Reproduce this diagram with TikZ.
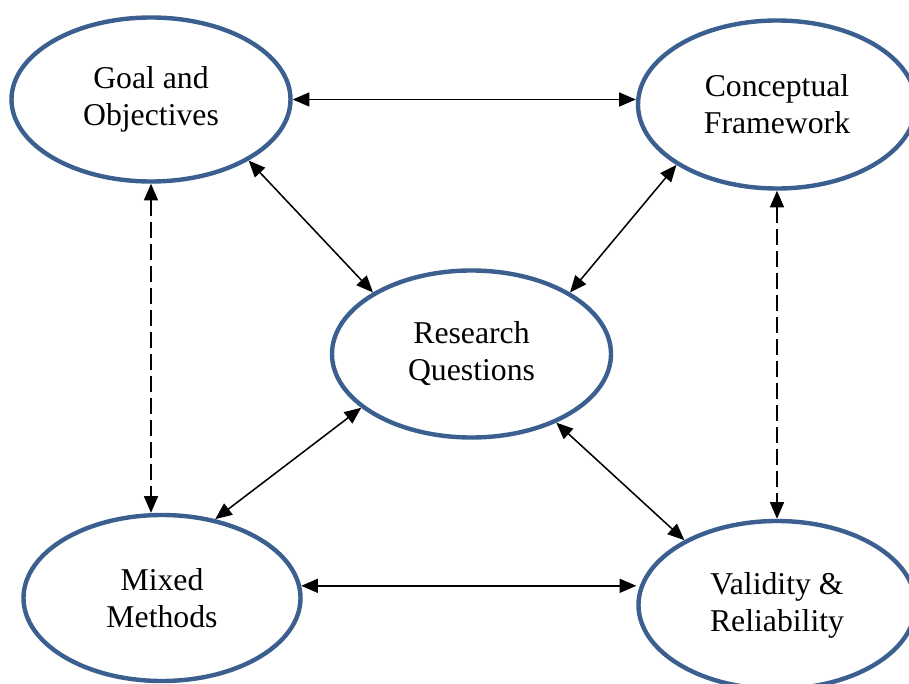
\documentclass[tikz,border=0pt]{standalone}
\usepackage{fontspec}
\setmainfont{Liberation Serif}
\usetikzlibrary{shapes.geometric,arrows.meta}
\definecolor{ringblue}{HTML}{3B5F8F}
\tikzset{
  bubble/.style={ellipse, draw=ringblue, line width=3.3pt, fill=white, align=center,
    font=\fontsize{23.8}{27.75}\selectfont, inner sep=0pt},
  link/.style={line width=1.15pt, {Triangle[length=12.5pt,width=10.5pt]}-{Triangle[length=12.5pt,width=10.5pt]}},
  dlink/.style={link, dash pattern=on 12pt off 4.5pt}
}
\begin{document}
\begin{tikzpicture}[x=0.75pt,y=-0.75pt]
\useasboundingbox (0,0) rectangle (909,684);
\clip (0,0) rectangle (909,684);
\node[bubble, minimum width=209.25pt, minimum height=123pt] (goal) at (151,99.5) {Goal and\\Objectives};
\node[bubble, minimum width=208.5pt, minimum height=126pt] (concept) at (777,104.5) {Conceptual\\Framework};
\node[bubble, minimum width=209.25pt, minimum height=125.25pt] (rq) at (471.5,354) {Research\\Questions};
\node[bubble, minimum width=207.75pt, minimum height=124.5pt] (mixed) at (162,598) {Mixed\\Methods};
\node[bubble, minimum width=207.75pt, minimum height=126pt] (valid) at (777,605) {Validity \&\\Reliability};

\draw[link] (goal.east) -- (goal.east -| concept.west);
\draw[link] (goal.-32.2) -- (rq.148.5);
\draw[link] (concept.-149.2) -- (rq.32);
\draw[dlink] (goal.south) -- (goal.south |- mixed.north);
\draw[dlink] (concept.south) -- (valid.north);
\draw[link] (rq.206.9) -- (mixed.56);
\draw[link] (rq.-39.2) -- (valid.145.3);
\draw[link] (mixed.5) -- (mixed.5 -| valid.west);
\end{tikzpicture}
\end{document}
